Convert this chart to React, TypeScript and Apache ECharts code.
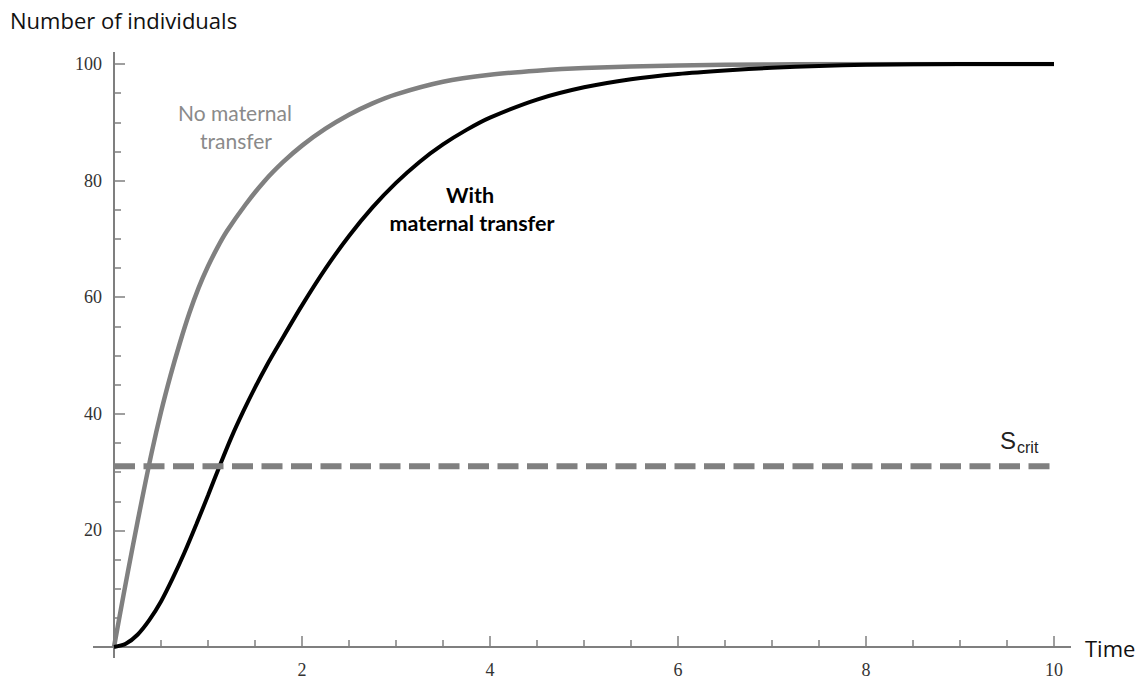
import React, { useEffect, useRef } from "react";
import * as echarts from "echarts";

// Time values and number of individuals
const noMaternalT = [0, 0.1, 0.2, 0.3, 0.4, 0.5, 0.6, 0.7, 0.8, 0.9, 1.0, 1.1, 1.2, 1.4, 1.6, 1.8, 2.0, 2.25, 2.5, 2.75, 3.0, 3.5, 4.0, 4.5, 5.0, 6.0, 7.0, 8.0, 10];
const noMaternalN = [0, 8.8, 17.3, 25.5, 33.3, 40.3, 46.5, 52.1, 57.2, 61.6, 65.3, 68.5, 71.3, 75.9, 79.9, 83.2, 86.0, 88.9, 91.3, 93.25, 94.8, 96.95, 98.15, 98.85, 99.3, 99.75, 99.93, 100, 100];

const withMaternalT = [0, 0.125, 0.25, 0.375, 0.5, 0.625, 0.75, 0.875, 1.0, 1.125, 1.25, 1.375, 1.5, 1.625, 1.75, 2.0, 2.25, 2.5, 2.75, 3.0, 3.25, 3.5, 3.75, 4.0, 4.5, 5.0, 5.5, 6.0, 6.5, 7.0, 7.5, 8.0, 9.0, 10];
const withMaternalN = [0, 0.55, 2.1, 4.6, 7.8, 11.8, 16.2, 21.0, 26.0, 31.1, 36.0, 40.4, 44.5, 48.3, 51.8, 58.6, 64.9, 70.5, 75.4, 79.6, 83.2, 86.2, 88.7, 90.8, 93.9, 96.0, 97.4, 98.3, 98.9, 99.35, 99.65, 99.85, 100, 100];

const sCrit = 31;
const timeRange = [0, 10];
const countRange = [0, 100];

const xAxisTitle = "Time";
const yAxisTitle = "Number of individuals";

export default function App() {
  const ref = useRef<HTMLDivElement>(null);

  useEffect(() => {
    const chart = echarts.init(ref.current!, null, { renderer: "svg" });
    const pairs = (t: number[], v: number[]) => t.map((x, i) => [x, v[i]]);
    const axisColor = "#7f7f7f";
    const labelFont = "'Liberation Serif', serif";
    const sans = "'Open Sans', 'Liberation Sans', Arial, sans-serif";
    const arial = "'Liberation Sans', Arial, sans-serif";
    const annoFont = "Lato, 'Liberation Sans', sans-serif";

    chart.setOption({
      animation: false,
      backgroundColor: "#ffffff",
      grid: { left: 114, right: 89, top: 64, bottom: 43 },
      xAxis: {
        type: "value",
        min: timeRange[0],
        max: timeRange[1],
        interval: 2,
        axisLine: { show: false },
        splitLine: { show: false },
        axisTick: { show: true, inside: true, length: 11, lineStyle: { color: axisColor, width: 1.5 } },
        minorTick: { show: true, splitNumber: 4, length: 7, lineStyle: { color: axisColor, width: 1.5 } },
        axisLabel: {
          margin: 14,
          fontFamily: labelFont,
          fontSize: 18,
          color: "#333",
          formatter: (v: number) => (v === 0 ? "" : String(v)),
        },
      },
      yAxis: {
        type: "value",
        min: countRange[0],
        max: countRange[1],
        interval: 20,
        axisLine: { show: false },
        splitLine: { show: false },
        axisTick: { show: true, inside: true, length: 11, lineStyle: { color: axisColor, width: 1.5 } },
        minorTick: { show: true, splitNumber: 4, length: 7, lineStyle: { color: axisColor, width: 1.5 } },
        axisLabel: {
          margin: 12,
          fontFamily: labelFont,
          fontSize: 18,
          color: "#333",
          formatter: (v: number) => (v === 0 ? "" : String(v)),
        },
      },
      series: [
        {
          name: "No maternal transfer",
          type: "line",
          data: pairs(noMaternalT, noMaternalN),
          showSymbol: false,
          symbol: "none",
          smooth: 0.3,
          lineStyle: { color: "#808080", width: 4.5 },
          z: 3,
        },
        {
          name: "With maternal transfer",
          type: "line",
          data: pairs(withMaternalT, withMaternalN),
          showSymbol: false,
          symbol: "none",
          smooth: 0.3,
          lineStyle: { color: "#000000", width: 4 },
          z: 4,
        },
        {
          name: "Scrit",
          type: "line",
          data: [
            [timeRange[0], sCrit],
            [timeRange[1], sCrit],
          ],
          showSymbol: false,
          symbol: "none",
          lineStyle: { color: "#808080", width: 6, type: [21, 8.5] },
          z: 5,
        },
      ],
      graphic: [
        { type: "line", shape: { x1: 114, y1: 52, x2: 114, y2: 658 }, style: { stroke: axisColor, lineWidth: 2 }, z: 2 },
        { type: "line", shape: { x1: 93, y1: 647, x2: 1071, y2: 647 }, style: { stroke: axisColor, lineWidth: 2 }, z: 2 },
        {
          type: "text",
          x: 10,
          y: 20,
          style: { text: yAxisTitle, fontFamily: sans, fontSize: 22, fill: "#111", verticalAlign: "middle", align: "left" },
        },
        {
          type: "text",
          x: 1085,
          y: 648,
          style: { text: xAxisTitle, fontFamily: sans, fontSize: 22, fill: "#111", verticalAlign: "middle", align: "left" },
        },
        {
          type: "text",
          x: 235,
          y: 112,
          style: { text: "No maternal", fontFamily: annoFont, fontSize: 21, fill: "#8a8a8a", align: "center", verticalAlign: "middle" },
        },
        {
          type: "text",
          x: 236,
          y: 140,
          style: { text: "transfer", fontFamily: annoFont, fontSize: 21, fill: "#8a8a8a", align: "center", verticalAlign: "middle" },
        },
        {
          type: "text",
          x: 470,
          y: 195,
          style: { text: "With", fontFamily: annoFont, fontSize: 21.5, fontWeight: "bold", fill: "#000", align: "center", verticalAlign: "middle" },
        },
        {
          type: "text",
          x: 472,
          y: 223,
          style: { text: "maternal transfer", fontFamily: annoFont, fontSize: 21.5, fontWeight: "bold", fill: "#000", align: "center", verticalAlign: "middle" },
        },
        {
          type: "text",
          x: 1000,
          y: 440,
          style: { text: "S", fontFamily: arial, fontSize: 24, fill: "#222", align: "left", verticalAlign: "middle" },
        },
        {
          type: "text",
          x: 1017,
          y: 447,
          style: { text: "crit", fontFamily: arial, fontSize: 16, fill: "#222", align: "left", verticalAlign: "middle" },
        },
      ],
    });

    return () => chart.dispose();
  }, []);

  return <div ref={ref} style={{ position: "fixed", left: 0, top: 0, width: 1143, height: 690, background: "#fff" }} />;
}
